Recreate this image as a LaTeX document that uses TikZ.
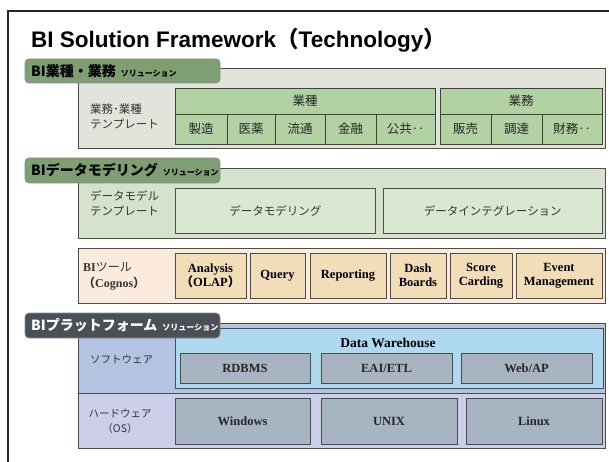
\documentclass[tikz,border=0pt]{standalone}
\usepackage{fontspec}
\setmainfont{Liberation Serif}
\newfontfamily\jp{Noto Sans CJK JP}
\newfontfamily\headfont{Liberation Sans}
\usetikzlibrary{positioning}
\definecolor{tabgreen}{HTML}{7F9E72}
\definecolor{tabdark}{HTML}{4B5056}
\definecolor{panelgray}{HTML}{E2E4DC}
\definecolor{cellgreen}{HTML}{B2D2A4}
\definecolor{panelgreen}{HTML}{D5E3CE}
\definecolor{boxgreen}{HTML}{D8E8D1}
\definecolor{panelpeach}{HTML}{FCEADC}
\definecolor{boxtan}{HTML}{F2DDB8}
\definecolor{softblue}{HTML}{B3C3E2}
\definecolor{dwblue}{HTML}{AED9F1}
\definecolor{hwlav}{HTML}{CDCEEA}
\definecolor{osgray}{HTML}{A7B4C2}
\tikzset{x=1pt, y=-1pt,
         node distance=0pt,
         frame/.style={line width=1.3pt, black!85},
         title/.style={anchor=west, inner sep=0pt, font=\headfont\bfseries\fontsize{22.5}{25}\selectfont},
         panel/.style={draw=black!70, line width=0.8pt, anchor=north west, inner sep=0pt, outer sep=0pt},
         tabbox/.style={draw=black!45, line width=0.8pt, rounded corners=4pt, anchor=north west, inner sep=0pt, outer sep=0pt},
         tabtext/.style={inner sep=0pt, font=\jp\bfseries\fontsize{14}{16}\selectfont},
         lbl/.style={align=left, inner sep=0pt, font=\jp\fontsize{11.5}{15}\selectfont, text=black!80},
         cell/.style={draw=black!75, line width=0.7pt, fill=cellgreen, inner sep=0pt, outer sep=0pt,
                      minimum height=30pt, font=\jp\fontsize{12.5}{14}\selectfont, text=black!85},
         boxg/.style={draw=black!70, line width=0.7pt, fill=boxgreen, anchor=north west, inner sep=0pt,
                      minimum height=45pt, font=\jp\fontsize{11.5}{13}\selectfont, text=black!80},
         toolbox/.style={draw=black!70, line width=0.7pt, fill=boxtan, inner sep=0pt, outer sep=0pt,
                         minimum height=45pt, align=center, font=\bfseries\fontsize{12.5}{14}\selectfont},
         osbox/.style={draw=black!70, line width=0.7pt, fill=osgray, inner sep=0pt, outer sep=0pt,
                       font=\bfseries\fontsize{12.5}{14}\selectfont, text=black!85},
         }

\begin{document}
\begin{tikzpicture}
    \useasboundingbox (0,0) rectangle (609,462);
    \draw[frame] (8,462) -- (8,11) -- (609,11);
    \node[title] (ttl) at (31,40) {BI Solution Framework{\jp（}Technology{\jp）}};

    % 業種・業務
    \node[panel, fill=panelgray, minimum width=527pt, minimum height=80pt] (p1) at (78,68) {};
    \node[tabbox, fill=tabgreen, minimum width=195pt, minimum height=24pt] (t1) at (25,59) {};
    \node[tabtext, right=6pt of t1.west, anchor=west] (t1txt) {BI業種・業務\hspace{5pt}{\fontsize{8}{9}\selectfont ソリューション}};
    \node[lbl, anchor=west] (l1) at (90,116) {業務･業種\\テンプレート};

    \node[cell, anchor=north west, minimum width=260pt, minimum height=26pt] (gyoshu) at (175,88) {業種};
    \node[cell, anchor=north west, minimum width=52pt] (c1) at (175,114) {製造};
    \node[cell, right=of c1, minimum width=48pt] (c2) {医薬};
    \node[cell, right=of c2, minimum width=50pt] (c3) {流通};
    \node[cell, right=of c3, minimum width=51pt] (c4) {金融};
    \node[cell, right=of c4, minimum width=59pt] (c5) {公共‥};

    \node[cell, anchor=north west, minimum width=162pt, minimum height=26pt] (gyomu) at (440,88) {業務};
    \node[cell, anchor=north west, minimum width=51pt] (d1) at (440,114) {販売};
    \node[cell, right=of d1, minimum width=51pt] (d2) {調達};
    \node[cell, right=of d2, minimum width=60pt] (d3) {財務‥};

    % データモデリング
    \node[panel, fill=panelgreen, minimum width=527pt, minimum height=70pt] (p2) at (78,168) {};
    \node[tabbox, fill=tabgreen, minimum width=195pt, minimum height=25pt] (t2) at (25,158) {};
    \node[tabtext, right=6pt of t2.west, anchor=west] (t2txt) {BIデータモデリング\hspace{5pt}{\fontsize{8}{9}\selectfont ソリューション}};
    \node[lbl, anchor=west] (l2) at (90,203) {データモデル\\テンプレート};
    \node[boxg, minimum width=200pt] (dm) at (175,188) {データモデリング};
    \node[boxg, minimum width=219pt] (di) at (383,188) {データインテグレーション};

    % BIツール
    \node[panel, fill=panelpeach, minimum width=527pt, minimum height=55pt] (p3) at (78,248) {};
    \node[lbl, anchor=west, font=\bfseries\fontsize{12}{16}\selectfont] (l3) at (83,276) {BI{\jp\mdseries ツール}\\{\jp（}Cognos{\jp）}};
    \node[toolbox, anchor=north west, minimum width=71pt] (b1) at (175,253) {Analysis\\{\jp（}OLAP{\jp）}};
    \node[toolbox, right=4pt of b1, minimum width=55pt] (b2) {Query};
    \node[toolbox, right=5pt of b2, minimum width=76pt] (b3) {Reporting};
    \node[toolbox, right=4pt of b3, minimum width=56pt] (b4) {Dash\\Boards};
    \node[toolbox, right=4pt of b4, minimum width=62pt] (b5) {Score\\Carding};
    \node[toolbox, right=4pt of b5, minimum width=86pt] (b6) {Event\\Management};

    % プラットフォーム
    \node[panel, fill=softblue, minimum width=527pt, minimum height=70pt] (sw) at (78,323) {};
    \node[panel, fill=hwlav, minimum width=527pt, minimum height=55pt] (hw) at (78,393) {};
    \node[panel, fill=dwblue, minimum width=428pt, minimum height=60pt] (dw) at (175,328) {};
    \node[tabbox, fill=tabdark, minimum width=195pt, minimum height=25pt] (t3) at (25,313) {};
    \node[tabtext, text=white, right=6pt of t3.west, anchor=west] (t3txt) {BIプラットフォーム\hspace{5pt}{\fontsize{8}{9}\selectfont ソリューション}};
    \node[lbl, anchor=west, font=\jp\fontsize{10.5}{15}\selectfont] (l4) at (90,359) {ソフトウェア};
    \node[lbl, align=center, font=\jp\fontsize{10.5}{15}\selectfont] (l5) at (120,421) {ハードウェア\\（OS）};
    \node[inner sep=0pt, font=\bfseries\fontsize{13.5}{15}\selectfont] (dwt) at (388,343) {Data Warehouse};

    \node[osbox, anchor=north west, minimum width=130pt, minimum height=30pt] (rdb) at (180,353) {RDBMS};
    \node[osbox, right=11pt of rdb, minimum width=131pt, minimum height=30pt] (etl) {EAI/ETL};
    \node[osbox, right=9pt of etl, minimum width=131pt, minimum height=30pt] (web) {Web/AP};

    \node[osbox, anchor=north west, minimum width=135pt, minimum height=46pt] (win) at (175,398) {Windows};
    \node[osbox, right=11pt of win, minimum width=136pt, minimum height=46pt] (unix) {UNIX};
    \node[osbox, right=9pt of unix, minimum width=136pt, minimum height=46pt] (lnx) {Linux};
\end{tikzpicture}
\end{document}
